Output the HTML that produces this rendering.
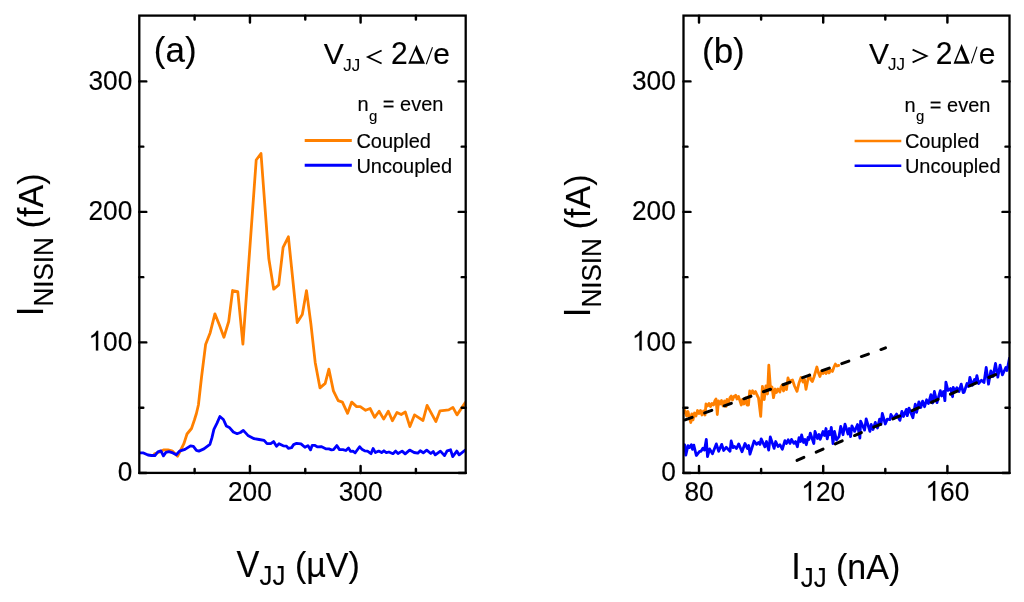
<!DOCTYPE html>
<html><head><meta charset="utf-8"><style>
html,body{margin:0;padding:0;background:#fff;width:1024px;height:602px;overflow:hidden}
svg{display:block;will-change:transform}
text{font-family:"Liberation Sans", sans-serif;fill:#000;stroke:#000;stroke-width:0.15px}
text.sub,tspan.sub{stroke-width:0.1px}
text.ti{stroke-width:0.12px}
</style></head><body>
<svg width="1024" height="602" viewBox="0 0 1024 602">
<defs><clipPath id="ca"><rect x="139.3" y="15.6" width="326.4" height="457.3"/></clipPath><clipPath id="cb"><rect x="683.5" y="15.6" width="326" height="457.3"/></clipPath></defs><g clip-path="url(#ca)"><path d="M154.5,453.8 159.0,452.2 163.5,449.9 168.0,449.9 172.6,451.2 177.6,456.2 181.0,449.5 184.0,443.4 187.0,434.0 191.5,428.5 194.4,420.0 196.4,413.5 198.4,405.0 201.6,376.5 205.6,344.6 210.2,332.7 214.9,313.9 219.4,325.0 223.9,337.3 228.7,321.5 232.6,290.5 237.8,291.6 242.9,344.2 256.2,160.0 261.0,153.5 268.8,258.5 273.7,289.2 278.7,284.9 283.1,247.4 288.4,236.8 297.2,322.5 302.3,314.6 306.5,290.6 310.9,323.9 315.2,362.4 320.0,387.9 325.2,383.4 328.9,369.2 333.4,390.9 338.2,400.6 342.4,402.1 347.6,413.3 351.7,402.1 356.6,406.6 360.3,406.6 365.6,410.3 370.1,408.5 374.6,417.4 379.1,411.2 383.7,419.1 388.3,411.2 392.4,420.8 397.0,412.4 401.2,414.5 405.3,412.0 409.9,426.6 414.5,414.9 423.0,420.5 427.1,405.4 435.9,421.6 440.0,410.8 444.6,410.3 448.7,409.9 452.9,407.4 457.0,414.9 465.3,402.5" fill="none" stroke="#FF8000" stroke-width="2.8" stroke-linejoin="round" stroke-linecap="round"/><path d="M139.5,452.9 143.5,452.9 148.0,455.0 151.4,455.5 154.9,455.5 157.9,451.9 160.9,450.9 163.4,455.9 165.9,452.4 168.9,451.7 172.9,452.9 176.3,454.7 179.5,451.1 185.0,449.4 190.5,445.9 193.4,446.4 196.4,450.4 198.9,451.1 203.9,448.9 209.9,444.4 211.9,437.9 213.9,429.4 216.9,423.4 219.9,416.5 223.4,419.5 226.3,425.9 229.3,427.4 233.3,432.0 237.1,433.7 240.4,432.5 243.3,430.4 247.9,435.4 254.1,438.7 259.1,439.5 264.1,440.4 267.0,443.7 270.7,443.7 273.6,441.6 276.5,446.2 279.0,443.7 283.2,445.8 286.5,446.2 288.3,448.3 291.6,447.6 293.6,444.6 296.6,443.3 301.0,443.9 304.9,447.3 307.9,445.6 310.6,449.9 312.2,445.3 314.6,445.3 317.6,446.9 321.2,446.6 326.2,448.9 328.9,448.9 331.5,449.9 333.5,449.6 336.8,445.6 339.5,449.6 342.9,449.6 345.9,450.5 348.5,447.9 350.5,451.4 352.9,451.1 355.2,452.8 359.6,446.7 362.3,449.6 364.6,450.8 367.5,451.1 371.0,453.7 373.1,448.5 375.4,452.6 378.7,451.1 381.6,452.6 383.9,450.8 386.3,452.6 388.9,452.0 393.0,453.7 395.7,451.1 398.0,453.5 402.1,451.1 405.2,453.9 409.6,450.1 414.1,452.5 417.8,453.2 420.2,450.8 423.3,452.8 426.7,450.1 430.8,453.5 433.2,451.5 435.3,454.9 440.4,451.1 444.5,455.6 447.2,450.8 450.6,449.8 452.7,456.6 456.8,451.1 459.2,454.9 465.3,450.1" fill="none" stroke="#0000FF" stroke-width="2.8" stroke-linejoin="round" stroke-linecap="round"/></g><g clip-path="url(#cb)"><path d="M683.5,413.0 685.0,410.5 686.5,416.0 688.0,411.5 689.5,418.0 690.8,422.5 691.8,414.0 693.0,420.0 694.5,413.0 696.0,416.0 697.5,410.5 699.0,413.5 700.5,410.5 702.0,415.0 703.5,411.0 705.0,415.0 706.0,404.0 707.5,406.0 709.0,403.5 710.5,406.5 712.0,403.5 713.5,405.0 715.0,400.5 716.0,399.0 717.3,414.5 718.5,401.0 720.0,404.0 721.5,400.5 723.0,406.0 724.5,401.0 726.0,406.5 727.0,399.5 728.5,403.0 730.0,397.5 731.2,396.0 732.5,400.0 734.0,396.5 735.7,395.3 737.0,399.0 738.5,396.5 740.0,401.0 741.3,405.0 742.5,399.5 744.0,404.0 745.5,398.0 747.0,405.0 748.5,405.0 749.7,391.0 751.0,394.0 752.5,390.8 754.0,393.5 755.5,391.5 757.0,395.0 758.5,398.0 760.7,416.3 762.4,386.3 764.2,399.5 765.9,386.0 767.5,394.0 768.8,365.2 770.6,390.0 772.0,387.0 773.5,397.7 775.2,389.0 776.5,392.5 778.0,389.0 779.9,392.0 781.0,387.0 782.2,385.0 783.5,391.0 785.0,386.5 786.5,389.5 788.0,378.0 789.5,383.0 791.0,380.5 792.5,380.0 794.5,386.0 797.0,391.3 799.0,383.0 801.0,377.5 803.0,382.0 804.5,379.5 806.0,389.3 808.0,379.0 809.4,375.0 811.0,380.0 812.4,381.5 814.0,377.0 815.5,372.0 816.9,367.0 818.5,373.0 819.9,376.5 821.5,371.0 823.0,373.5 824.5,371.0 826.0,373.5 827.5,371.0 829.0,373.0 830.5,370.0 832.4,371.5 834.0,367.0 835.4,364.0 837.0,366.0 838.8,365.4" fill="none" stroke="#FF8000" stroke-width="2.8" stroke-linejoin="round" stroke-linecap="round"/><path d="M683.0,450.0 684.7,444.8 685.8,455.1 688.0,445.6 689.5,447.6 691.3,444.8 692.5,449.3 693.8,445.2 696.3,455.5 699.6,451.4 701.0,451.3 703.0,448.1 704.5,450.1 706.3,439.4 707.5,456.7 709.6,448.9 712.5,453.8 716.3,443.9 718.7,451.3 721.7,444.4 723.7,450.5 726.2,447.3 730.0,451.3 731.2,441.0 733.0,447.6 734.5,446.4 736.5,448.5 738.7,443.9 742.0,451.8 745.0,443.5 747.5,448.5 748.7,445.5 750.0,454.2 754.1,441.0 756.6,444.3 758.5,442.5 760.0,444.5 761.2,438.9 764.9,446.8 766.5,441.5 768.7,450.1 770.3,436.9 774.1,448.4 775.7,441.5 778.0,446.5 779.9,444.8 782.4,449.2 784.9,440.6 786.5,443.5 788.2,439.8 790.0,443.4 791.5,439.4 794.0,443.4 795.5,441.5 797.4,446.8 799.0,437.7 800.5,441.5 801.6,434.9 803.5,442.5 805.0,439.5 806.3,444.7 808.0,437.5 809.0,439.5 810.3,433.1 813.8,443.5 815.0,431.4 817.5,438.5 819.0,434.5 820.2,439.4 823.0,431.5 824.5,435.5 826.0,428.5 827.2,438.8 829.0,431.5 830.2,434.5 831.3,427.3 833.0,443.5 834.5,431.5 836.5,440.0 839.0,436.7 840.7,426.4 843.0,434.7 845.0,424.1 848.0,434.0 849.3,428.5 850.6,436.7 851.9,425.8 854.6,431.4 857.5,424.5 859.9,438.0 860.6,421.1 864.6,430.1 866.2,418.8 869.9,431.4 871.2,424.5 873.0,429.5 875.3,422.4 877.5,428.0 879.6,419.1 881.0,424.5 882.3,413.4 885.3,424.0 887.3,419.1 889.9,419.7 890.9,414.4 893.5,418.5 896.6,414.1 899.9,420.4 901.9,411.4 903.5,416.5 906.3,409.4 907.3,415.7 909.0,408.1 912.9,417.7 915.3,404.1 916.6,412.4 918.9,401.8 920.8,407.5 922.6,401.1 924.6,406.7 926.6,399.8 928.5,403.5 930.9,394.6 932.6,403.0 934.4,391.5 937.0,402.7 940.3,390.7 941.6,396.0 943.5,391.5 944.9,400.7 945.9,382.1 948.0,390.5 950.5,388.5 952.6,396.7 953.2,387.4 955.0,391.5 956.9,387.7 959.0,391.5 961.2,384.1 963.2,392.7 964.1,392.3 967.0,383.5 968.5,386.5 969.9,377.3 972.2,385.4 974.5,379.5 975.5,382.5 976.9,375.6 978.6,383.6 981.5,380.2 984.0,382.5 986.2,367.4 988.5,384.2 990.8,370.9 993.0,376.5 995.5,363.4 997.8,377.2 1000.1,365.1 1002.4,374.9 1004.0,371.5 1005.9,367.4 1007.0,370.5 1009.5,358.1" fill="none" stroke="#0000FF" stroke-width="2.8" stroke-linejoin="round" stroke-linecap="round"/><path d="M683.5,420.5 L885.5,347.9" stroke="#000" stroke-width="3" stroke-dasharray="7.5,13.31" stroke-dashoffset="-1.7" stroke-linecap="round" fill="none"/><path d="M797.0,460.4 L995.8,374.45" stroke="#000" stroke-width="3" stroke-dasharray="7.5,13.39" stroke-dashoffset="0" stroke-linecap="round" fill="none"/></g><rect x="139.3" y="15.6" width="326.4" height="457.3" fill="none" stroke="#000" stroke-width="2.3"/><path d="M249.94 472.9v-7.0M249.94 15.6v7.0M360.59 472.9v-7.0M360.59 15.6v7.0M194.62 472.9v-4.0M194.62 15.6v4.0M305.27 472.9v-4.0M305.27 15.6v4.0M415.91 472.9v-4.0M415.91 15.6v4.0M139.3 472.9h7.0M465.7 472.9h-7.0M139.3 342.39h7.0M465.7 342.39h-7.0M139.3 211.88h7.0M465.7 211.88h-7.0M139.3 81.38h7.0M465.7 81.38h-7.0M139.3 407.65h4.0M465.7 407.65h-4.0M139.3 277.14h4.0M465.7 277.14h-4.0M139.3 146.63h4.0M465.7 146.63h-4.0" stroke="#000" stroke-width="2.45" stroke-linecap="round" fill="none"/><g transform="matrix(1,0,0,1.045,0,-21.336)"><text x="117.67" y="480.8" font-size="26.3" text-anchor="start">0</text></g><g transform="matrix(1,0,0,1.045,0,-15.463)"><path transform="translate(88.42,350.29) scale(0.01284,-0.01284)" d="M763 0L583 0L583 1147Q518 1085 412 1023Q306 961 223 930L223 1104Q373 1175 486 1276Q599 1377 646 1472L763 1472Z" fill="#000" stroke="#000" stroke-width="11.7"/><text x="103.05" y="350.29" font-size="26.3" text-anchor="start">0</text><text x="117.67" y="350.29" font-size="26.3" text-anchor="start">0</text></g><g transform="matrix(1,0,0,1.045,0,-9.590)"><text x="88.42" y="219.78" font-size="26.3" text-anchor="start">2</text><text x="103.05" y="219.78" font-size="26.3" text-anchor="start">0</text><text x="117.67" y="219.78" font-size="26.3" text-anchor="start">0</text></g><g transform="matrix(1,0,0,1.045,0,-3.717)"><text x="88.42" y="89.28" font-size="26.3" text-anchor="start">3</text><text x="103.05" y="89.28" font-size="26.3" text-anchor="start">0</text><text x="117.67" y="89.28" font-size="26.3" text-anchor="start">0</text></g><g transform="matrix(1,0,0,1.045,0,-22.218)"><text x="228" y="500.4" font-size="26.3" text-anchor="start">2</text><text x="242.63" y="500.4" font-size="26.3" text-anchor="start">0</text><text x="257.26" y="500.4" font-size="26.3" text-anchor="start">0</text></g><g transform="matrix(1,0,0,1.045,0,-22.218)"><text x="338.65" y="500.4" font-size="26.3" text-anchor="start">3</text><text x="353.27" y="500.4" font-size="26.3" text-anchor="start">0</text><text x="367.9" y="500.4" font-size="26.3" text-anchor="start">0</text></g><rect x="683.5" y="15.6" width="326" height="457.3" fill="none" stroke="#000" stroke-width="2.3"/><path d="M699.02 472.9v-7.0M699.02 15.6v7.0M823.21 472.9v-7.0M823.21 15.6v7.0M947.4 472.9v-7.0M947.4 15.6v7.0M761.12 472.9v-4.0M761.12 15.6v4.0M885.31 472.9v-4.0M885.31 15.6v4.0M683.5 472.9h7.0M1009.5 472.9h-7.0M683.5 342.39h7.0M1009.5 342.39h-7.0M683.5 211.88h7.0M1009.5 211.88h-7.0M683.5 81.38h7.0M1009.5 81.38h-7.0M683.5 407.65h4.0M1009.5 407.65h-4.0M683.5 277.14h4.0M1009.5 277.14h-4.0M683.5 146.63h4.0M1009.5 146.63h-4.0" stroke="#000" stroke-width="2.45" stroke-linecap="round" fill="none"/><g transform="matrix(1,0,0,1.045,0,-21.336)"><text x="661.17" y="480.8" font-size="26.3" text-anchor="start">0</text></g><g transform="matrix(1,0,0,1.045,0,-15.463)"><path transform="translate(631.92,350.29) scale(0.01284,-0.01284)" d="M763 0L583 0L583 1147Q518 1085 412 1023Q306 961 223 930L223 1104Q373 1175 486 1276Q599 1377 646 1472L763 1472Z" fill="#000" stroke="#000" stroke-width="11.7"/><text x="646.55" y="350.29" font-size="26.3" text-anchor="start">0</text><text x="661.17" y="350.29" font-size="26.3" text-anchor="start">0</text></g><g transform="matrix(1,0,0,1.045,0,-9.590)"><text x="631.92" y="219.78" font-size="26.3" text-anchor="start">2</text><text x="646.55" y="219.78" font-size="26.3" text-anchor="start">0</text><text x="661.17" y="219.78" font-size="26.3" text-anchor="start">0</text></g><g transform="matrix(1,0,0,1.045,0,-3.717)"><text x="631.92" y="89.28" font-size="26.3" text-anchor="start">3</text><text x="646.55" y="89.28" font-size="26.3" text-anchor="start">0</text><text x="661.17" y="89.28" font-size="26.3" text-anchor="start">0</text></g><g transform="matrix(1,0,0,1.045,0,-22.218)"><text x="684.4" y="500.4" font-size="26.3" text-anchor="start">8</text><text x="699.02" y="500.4" font-size="26.3" text-anchor="start">0</text></g><g transform="matrix(1,0,0,1.045,0,-22.218)"><path transform="translate(801.27,500.4) scale(0.01284,-0.01284)" d="M763 0L583 0L583 1147Q518 1085 412 1023Q306 961 223 930L223 1104Q373 1175 486 1276Q599 1377 646 1472L763 1472Z" fill="#000" stroke="#000" stroke-width="11.7"/><text x="815.9" y="500.4" font-size="26.3" text-anchor="start">2</text><text x="830.53" y="500.4" font-size="26.3" text-anchor="start">0</text></g><g transform="matrix(1,0,0,1.045,0,-22.218)"><path transform="translate(925.46,500.4) scale(0.01284,-0.01284)" d="M763 0L583 0L583 1147Q518 1085 412 1023Q306 961 223 930L223 1104Q373 1175 486 1276Q599 1377 646 1472L763 1472Z" fill="#000" stroke="#000" stroke-width="11.7"/><text x="940.09" y="500.4" font-size="26.3" text-anchor="start">6</text><text x="954.72" y="500.4" font-size="26.3" text-anchor="start">0</text></g><g transform="translate(0,577) scale(1,1.05)"><text class="ti" x="236.6" y="0" font-size="34.3">V<tspan font-size="26" dy="7.8" class="sub">JJ</tspan></text><text class="ti" x="294.9" y="0" font-size="34">(µV)</text></g><g transform="translate(0,579) scale(1,1.05)"><text class="ti" x="791.2" y="0" font-size="34.3">I<tspan font-size="26" dy="7.8" class="sub">JJ</tspan></text><text class="ti" x="836" y="0" font-size="34">(nA)</text></g><text class="ti" transform="translate(42.9,316.3) rotate(-90) scale(1,1.03)" font-size="35">I<tspan font-size="26" dy="10.2" class="sub">NISIN</tspan></text><text class="ti" transform="translate(42.9,228.3) rotate(-90) scale(1,1.03)" font-size="34">(fA)</text><text class="ti" transform="translate(590,317.2) rotate(-90) scale(1,1.03)" font-size="35">I<tspan font-size="26" dy="10.2" class="sub">NISIN</tspan></text><text class="ti" transform="translate(590,229.2) rotate(-90) scale(1,1.03)" font-size="34">(fA)</text><text x="153.8" y="62" font-size="35" text-anchor="start" class="ti">(a)</text><text x="702" y="62.5" font-size="35" text-anchor="start" class="ti">(b)</text><g transform="translate(0,64.2) scale(1,1.01) translate(0,-64.2)"><text x="323.8" y="64.2" font-size="30" text-anchor="start">V</text><text x="343.2" y="70.7" font-size="17" text-anchor="start" class="sub">JJ</text><text x="433.3" y="64.5" font-size="30" text-anchor="start">e</text></g><g transform="translate(0,64.2) scale(1,1.06) translate(0,-64.2)"><text x="390.9" y="64.2" font-size="30" text-anchor="start">2</text></g><path d="M381.6,50.5L367.9,57L381.6,63.5" stroke="#000" stroke-width="1.75" fill="none" stroke-linejoin="miter"/><path d="M408.20,63.80L416.50,44.80L425.00,63.80Z M410.82,61.30L420.38,61.30L415.54,50.49Z" fill="#000" fill-rule="evenodd"/><path d="M426.3,64.3L432.5,47.2" stroke="#000" stroke-width="1.1"/><g transform="translate(0,63.7) scale(1,1.01) translate(0,-63.7)"><text x="869" y="63.7" font-size="30" text-anchor="start">V</text><text x="888" y="70.4" font-size="17" text-anchor="start" class="sub">JJ</text><text x="978.7" y="63.9" font-size="30" text-anchor="start">e</text></g><g transform="translate(0,63.7) scale(1,1.06) translate(0,-63.7)"><text x="935.8" y="63.7" font-size="30" text-anchor="start">2</text></g><path d="M912.6,49.6L926.6,56L912.6,62.4" stroke="#000" stroke-width="1.75" fill="none" stroke-linejoin="miter"/><path d="M953.50,63.70L961.60,44.10L969.90,63.70Z M956.05,61.20L965.37,61.20L960.65,50.06Z" fill="#000" fill-rule="evenodd"/><path d="M971.3,63.2L977.0,46.6" stroke="#000" stroke-width="1.1"/><text x="357.5" y="111.2" font-size="20" text-anchor="start">n</text><text x="369.1" y="120.7" font-size="15" text-anchor="start" class="sub">g</text><text x="382.8" y="111.2" font-size="20" text-anchor="start">= even</text><path d="M304.7 140.5H351.8" stroke="#FF8000" stroke-width="3"/><path d="M304.7 165.2H351.8" stroke="#0000FF" stroke-width="3"/><text x="356.4" y="147.8" font-size="20" text-anchor="start">Coupled</text><text x="356.4" y="172.5" font-size="20" text-anchor="start">Uncoupled</text><text x="904.5" y="111.7" font-size="20" text-anchor="start">n</text><text x="916.1" y="121.2" font-size="15" text-anchor="start" class="sub">g</text><text x="929.8" y="111.7" font-size="20" text-anchor="start">= even</text><path d="M854.6 141H901.3" stroke="#FF8000" stroke-width="2.6"/><path d="M854.6 165.8H901.3" stroke="#0000FF" stroke-width="2.6"/><text x="904.9" y="148.3" font-size="20" text-anchor="start">Coupled</text><text x="904.9" y="173.1" font-size="20" text-anchor="start">Uncoupled</text>
</svg></body></html>
